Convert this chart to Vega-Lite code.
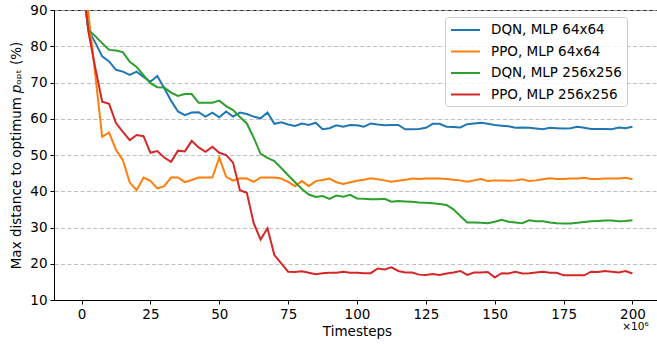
{
  "$schema": "https://vega.github.io/schema/vega-lite/v6.json",
  "autosize": {"type": "none"},
  "padding": {"left": 54, "top": 10, "right": 0, "bottom": 44},
  "width": 606,
  "height": 290,
  "background": "white",
  "config": {
    "font": "DejaVu Sans",
    "view": {"stroke": "#222222", "strokeWidth": 1},
    "axis": {
      "labelFont": "DejaVu Sans", "labelFontSize": 13.5, "labelColor": "#000000",
      "titleFont": "DejaVu Sans", "titleFontSize": 13.5, "titleFontWeight": "normal", "titleColor": "#000000",
      "domainColor": "#000000", "tickColor": "#000000", "tickSize": 4, "labelPadding": 3, "labelOverlap": false
    }
  },
  "data": {
    "values": [
      {"t": 0, "DQN, MLP 64x64": 100, "PPO, MLP 64x64": 100, "DQN, MLP 256x256": 100, "PPO, MLP 256x256": 100},
      {"t": 2.5, "DQN, MLP 64x64": 84.5, "PPO, MLP 64x64": 89, "DQN, MLP 256x256": 84.5, "PPO, MLP 256x256": 84},
      {"t": 5, "DQN, MLP 64x64": 81, "PPO, MLP 64x64": 72, "DQN, MLP 256x256": 82.8, "PPO, MLP 256x256": 74},
      {"t": 7.5, "DQN, MLP 64x64": 77.2, "PPO, MLP 64x64": 55, "DQN, MLP 256x256": 80.8, "PPO, MLP 256x256": 64.7},
      {"t": 10, "DQN, MLP 64x64": 75.8, "PPO, MLP 64x64": 56.2, "DQN, MLP 256x256": 79, "PPO, MLP 256x256": 64.1},
      {"t": 12.5, "DQN, MLP 64x64": 73.5, "PPO, MLP 64x64": 51.4, "DQN, MLP 256x256": 78.8, "PPO, MLP 256x256": 58.8},
      {"t": 15, "DQN, MLP 64x64": 73, "PPO, MLP 64x64": 48.6, "DQN, MLP 256x256": 78.4, "PPO, MLP 256x256": 56.4},
      {"t": 17.5, "DQN, MLP 64x64": 72.1, "PPO, MLP 64x64": 42.4, "DQN, MLP 256x256": 75.7, "PPO, MLP 256x256": 54.1},
      {"t": 20, "DQN, MLP 64x64": 73, "PPO, MLP 64x64": 40.3, "DQN, MLP 256x256": 74.3, "PPO, MLP 256x256": 55.5},
      {"t": 22.5, "DQN, MLP 64x64": 71.5, "PPO, MLP 64x64": 43.8, "DQN, MLP 256x256": 72, "PPO, MLP 256x256": 55.2},
      {"t": 25, "DQN, MLP 64x64": 70.2, "PPO, MLP 64x64": 42.9, "DQN, MLP 256x256": 69.8, "PPO, MLP 256x256": 50.6},
      {"t": 27.5, "DQN, MLP 64x64": 71.8, "PPO, MLP 64x64": 40.8, "DQN, MLP 256x256": 68.7, "PPO, MLP 256x256": 51.1},
      {"t": 30, "DQN, MLP 64x64": 68.5, "PPO, MLP 64x64": 41.4, "DQN, MLP 256x256": 68.6, "PPO, MLP 256x256": 49.3},
      {"t": 32.5, "DQN, MLP 64x64": 65, "PPO, MLP 64x64": 43.8, "DQN, MLP 256x256": 67.2, "PPO, MLP 256x256": 48.1},
      {"t": 35, "DQN, MLP 64x64": 62, "PPO, MLP 64x64": 43.8, "DQN, MLP 256x256": 66.3, "PPO, MLP 256x256": 51.2},
      {"t": 37.5, "DQN, MLP 64x64": 61, "PPO, MLP 64x64": 42.5, "DQN, MLP 256x256": 66.8, "PPO, MLP 256x256": 51},
      {"t": 40, "DQN, MLP 64x64": 61.7, "PPO, MLP 64x64": 43.1, "DQN, MLP 256x256": 66.8, "PPO, MLP 256x256": 53.9},
      {"t": 42.5, "DQN, MLP 64x64": 61.8, "PPO, MLP 64x64": 43.8, "DQN, MLP 256x256": 64.4, "PPO, MLP 256x256": 52.1},
      {"t": 45, "DQN, MLP 64x64": 60.6, "PPO, MLP 64x64": 43.8, "DQN, MLP 256x256": 64.4, "PPO, MLP 256x256": 50.9},
      {"t": 47.5, "DQN, MLP 64x64": 61.7, "PPO, MLP 64x64": 43.8, "DQN, MLP 256x256": 64.4, "PPO, MLP 256x256": 52.3},
      {"t": 50, "DQN, MLP 64x64": 60.4, "PPO, MLP 64x64": 49.3, "DQN, MLP 256x256": 65, "PPO, MLP 256x256": 50.6},
      {"t": 52.5, "DQN, MLP 64x64": 62, "PPO, MLP 64x64": 44, "DQN, MLP 256x256": 63.5, "PPO, MLP 256x256": 50},
      {"t": 55, "DQN, MLP 64x64": 60.6, "PPO, MLP 64x64": 42.9, "DQN, MLP 256x256": 62.4, "PPO, MLP 256x256": 47.9},
      {"t": 57.5, "DQN, MLP 64x64": 61.7, "PPO, MLP 64x64": 43.6, "DQN, MLP 256x256": 60.5, "PPO, MLP 256x256": 40.3},
      {"t": 60, "DQN, MLP 64x64": 61.3, "PPO, MLP 64x64": 43.5, "DQN, MLP 256x256": 58.7, "PPO, MLP 256x256": 39.6},
      {"t": 62.5, "DQN, MLP 64x64": 60.6, "PPO, MLP 64x64": 42.6, "DQN, MLP 256x256": 54.8, "PPO, MLP 256x256": 31.2},
      {"t": 65, "DQN, MLP 64x64": 60.1, "PPO, MLP 64x64": 43.8, "DQN, MLP 256x256": 50.3, "PPO, MLP 256x256": 26.7},
      {"t": 67.5, "DQN, MLP 64x64": 61.7, "PPO, MLP 64x64": 43.8, "DQN, MLP 256x256": 49.2, "PPO, MLP 256x256": 29.8},
      {"t": 70, "DQN, MLP 64x64": 58.6, "PPO, MLP 64x64": 43.8, "DQN, MLP 256x256": 48.3, "PPO, MLP 256x256": 22.4},
      {"t": 72.5, "DQN, MLP 64x64": 59, "PPO, MLP 64x64": 43.5, "DQN, MLP 256x256": 46.4, "PPO, MLP 256x256": 20.1},
      {"t": 75, "DQN, MLP 64x64": 58.4, "PPO, MLP 64x64": 42.6, "DQN, MLP 256x256": 44.4, "PPO, MLP 256x256": 17.8},
      {"t": 77.5, "DQN, MLP 64x64": 58, "PPO, MLP 64x64": 41.4, "DQN, MLP 256x256": 42.5, "PPO, MLP 256x256": 17.7},
      {"t": 80, "DQN, MLP 64x64": 58.7, "PPO, MLP 64x64": 42.8, "DQN, MLP 256x256": 40.6, "PPO, MLP 256x256": 17.9},
      {"t": 82.5, "DQN, MLP 64x64": 58.3, "PPO, MLP 64x64": 41.4, "DQN, MLP 256x256": 39.1, "PPO, MLP 256x256": 17.5},
      {"t": 85, "DQN, MLP 64x64": 58.9, "PPO, MLP 64x64": 42.8, "DQN, MLP 256x256": 38.4, "PPO, MLP 256x256": 17.1},
      {"t": 87.5, "DQN, MLP 64x64": 57.1, "PPO, MLP 64x64": 43.1, "DQN, MLP 256x256": 38.7, "PPO, MLP 256x256": 17.4},
      {"t": 90, "DQN, MLP 64x64": 57.4, "PPO, MLP 64x64": 43.5, "DQN, MLP 256x256": 37.9, "PPO, MLP 256x256": 17.5},
      {"t": 92.5, "DQN, MLP 64x64": 58.2, "PPO, MLP 64x64": 42.5, "DQN, MLP 256x256": 38.8, "PPO, MLP 256x256": 17.5},
      {"t": 95, "DQN, MLP 64x64": 57.8, "PPO, MLP 64x64": 42, "DQN, MLP 256x256": 38.5, "PPO, MLP 256x256": 17.8},
      {"t": 97.5, "DQN, MLP 64x64": 58.3, "PPO, MLP 64x64": 42.5, "DQN, MLP 256x256": 39, "PPO, MLP 256x256": 17.5},
      {"t": 100, "DQN, MLP 64x64": 58.2, "PPO, MLP 64x64": 42.9, "DQN, MLP 256x256": 38, "PPO, MLP 256x256": 17.5},
      {"t": 102.5, "DQN, MLP 64x64": 57.8, "PPO, MLP 64x64": 43.2, "DQN, MLP 256x256": 37.9, "PPO, MLP 256x256": 17.4},
      {"t": 105, "DQN, MLP 64x64": 58.7, "PPO, MLP 64x64": 43.6, "DQN, MLP 256x256": 37.8, "PPO, MLP 256x256": 17.4},
      {"t": 107.5, "DQN, MLP 64x64": 58.4, "PPO, MLP 64x64": 43.3, "DQN, MLP 256x256": 37.8, "PPO, MLP 256x256": 18.7},
      {"t": 110, "DQN, MLP 64x64": 58.2, "PPO, MLP 64x64": 43, "DQN, MLP 256x256": 37.9, "PPO, MLP 256x256": 18.4},
      {"t": 112.5, "DQN, MLP 64x64": 58.3, "PPO, MLP 64x64": 42.6, "DQN, MLP 256x256": 37.1, "PPO, MLP 256x256": 19},
      {"t": 115, "DQN, MLP 64x64": 58.3, "PPO, MLP 64x64": 42.9, "DQN, MLP 256x256": 37.3, "PPO, MLP 256x256": 18},
      {"t": 117.5, "DQN, MLP 64x64": 57.1, "PPO, MLP 64x64": 43.2, "DQN, MLP 256x256": 37.2, "PPO, MLP 256x256": 17.6},
      {"t": 120, "DQN, MLP 64x64": 57.1, "PPO, MLP 64x64": 43.5, "DQN, MLP 256x256": 37.1, "PPO, MLP 256x256": 17.6},
      {"t": 122.5, "DQN, MLP 64x64": 57.2, "PPO, MLP 64x64": 43.4, "DQN, MLP 256x256": 36.9, "PPO, MLP 256x256": 17},
      {"t": 125, "DQN, MLP 64x64": 57.5, "PPO, MLP 64x64": 43.5, "DQN, MLP 256x256": 36.8, "PPO, MLP 256x256": 16.9},
      {"t": 127.5, "DQN, MLP 64x64": 58.6, "PPO, MLP 64x64": 43.5, "DQN, MLP 256x256": 36.7, "PPO, MLP 256x256": 17.2},
      {"t": 130, "DQN, MLP 64x64": 58.6, "PPO, MLP 64x64": 43.5, "DQN, MLP 256x256": 36.5, "PPO, MLP 256x256": 16.9},
      {"t": 132.5, "DQN, MLP 64x64": 57.8, "PPO, MLP 64x64": 43.4, "DQN, MLP 256x256": 36.2, "PPO, MLP 256x256": 17.3},
      {"t": 135, "DQN, MLP 64x64": 57.7, "PPO, MLP 64x64": 43.2, "DQN, MLP 256x256": 35, "PPO, MLP 256x256": 17.6},
      {"t": 137.5, "DQN, MLP 64x64": 57.6, "PPO, MLP 64x64": 43, "DQN, MLP 256x256": 33.2, "PPO, MLP 256x256": 18},
      {"t": 140, "DQN, MLP 64x64": 58.5, "PPO, MLP 64x64": 42.6, "DQN, MLP 256x256": 31.4, "PPO, MLP 256x256": 16.9},
      {"t": 142.5, "DQN, MLP 64x64": 58.7, "PPO, MLP 64x64": 43, "DQN, MLP 256x256": 31.4, "PPO, MLP 256x256": 17.6},
      {"t": 145, "DQN, MLP 64x64": 58.9, "PPO, MLP 64x64": 43.4, "DQN, MLP 256x256": 31.3, "PPO, MLP 256x256": 17.6},
      {"t": 147.5, "DQN, MLP 64x64": 58.6, "PPO, MLP 64x64": 42.8, "DQN, MLP 256x256": 31.2, "PPO, MLP 256x256": 17.7},
      {"t": 150, "DQN, MLP 64x64": 58.3, "PPO, MLP 64x64": 43, "DQN, MLP 256x256": 31.6, "PPO, MLP 256x256": 16.2},
      {"t": 152.5, "DQN, MLP 64x64": 58.1, "PPO, MLP 64x64": 43, "DQN, MLP 256x256": 32.1, "PPO, MLP 256x256": 17.4},
      {"t": 155, "DQN, MLP 64x64": 57.9, "PPO, MLP 64x64": 42.9, "DQN, MLP 256x256": 31.6, "PPO, MLP 256x256": 17.3},
      {"t": 157.5, "DQN, MLP 64x64": 57.5, "PPO, MLP 64x64": 43, "DQN, MLP 256x256": 31.4, "PPO, MLP 256x256": 17.8},
      {"t": 160, "DQN, MLP 64x64": 57.6, "PPO, MLP 64x64": 43.3, "DQN, MLP 256x256": 31.2, "PPO, MLP 256x256": 17.3},
      {"t": 162.5, "DQN, MLP 64x64": 57.5, "PPO, MLP 64x64": 42.8, "DQN, MLP 256x256": 32, "PPO, MLP 256x256": 17.4},
      {"t": 165, "DQN, MLP 64x64": 57.3, "PPO, MLP 64x64": 43, "DQN, MLP 256x256": 31.7, "PPO, MLP 256x256": 17.6},
      {"t": 167.5, "DQN, MLP 64x64": 57.1, "PPO, MLP 64x64": 43.3, "DQN, MLP 256x256": 31.7, "PPO, MLP 256x256": 17.8},
      {"t": 170, "DQN, MLP 64x64": 57.5, "PPO, MLP 64x64": 43.6, "DQN, MLP 256x256": 31.4, "PPO, MLP 256x256": 17.5},
      {"t": 172.5, "DQN, MLP 64x64": 57.4, "PPO, MLP 64x64": 43.4, "DQN, MLP 256x256": 31.2, "PPO, MLP 256x256": 17.5},
      {"t": 175, "DQN, MLP 64x64": 57.3, "PPO, MLP 64x64": 43.4, "DQN, MLP 256x256": 31.1, "PPO, MLP 256x256": 16.8},
      {"t": 177.5, "DQN, MLP 64x64": 57.4, "PPO, MLP 64x64": 43.5, "DQN, MLP 256x256": 31.1, "PPO, MLP 256x256": 16.8},
      {"t": 180, "DQN, MLP 64x64": 57.8, "PPO, MLP 64x64": 43.5, "DQN, MLP 256x256": 31.3, "PPO, MLP 256x256": 16.8},
      {"t": 182.5, "DQN, MLP 64x64": 57.5, "PPO, MLP 64x64": 43.7, "DQN, MLP 256x256": 31.5, "PPO, MLP 256x256": 16.8},
      {"t": 185, "DQN, MLP 64x64": 57.2, "PPO, MLP 64x64": 43.4, "DQN, MLP 256x256": 31.7, "PPO, MLP 256x256": 17.8},
      {"t": 187.5, "DQN, MLP 64x64": 57.2, "PPO, MLP 64x64": 43.4, "DQN, MLP 256x256": 31.8, "PPO, MLP 256x256": 17.7},
      {"t": 190, "DQN, MLP 64x64": 57.2, "PPO, MLP 64x64": 43.5, "DQN, MLP 256x256": 31.9, "PPO, MLP 256x256": 18},
      {"t": 192.5, "DQN, MLP 64x64": 57.1, "PPO, MLP 64x64": 43.5, "DQN, MLP 256x256": 31.9, "PPO, MLP 256x256": 17.8},
      {"t": 195, "DQN, MLP 64x64": 57.6, "PPO, MLP 64x64": 43.5, "DQN, MLP 256x256": 31.7, "PPO, MLP 256x256": 17.6},
      {"t": 197.5, "DQN, MLP 64x64": 57.4, "PPO, MLP 64x64": 43.7, "DQN, MLP 256x256": 31.8, "PPO, MLP 256x256": 18},
      {"t": 200, "DQN, MLP 64x64": 57.8, "PPO, MLP 64x64": 43.3, "DQN, MLP 256x256": 32, "PPO, MLP 256x256": 17.3}
    ]
  },
  "layer": [
    {
      "transform": [
        {"fold": ["DQN, MLP 64x64", "PPO, MLP 64x64", "DQN, MLP 256x256", "PPO, MLP 256x256"], "as": ["series", "value"]}
      ],
      "mark": {"type": "line", "clip": true, "strokeWidth": 2},
      "encoding": {
        "x": {
          "field": "t", "type": "quantitative",
          "scale": {"domain": [-10, 210], "nice": false, "zero": false},
          "axis": {"values": [0, 25, 50, 75, 100, 125, 150, 175, 200], "tickCount": 20, "grid": false, "title": "Timesteps", "titlePadding": 4}
        },
        "y": {
          "field": "value", "type": "quantitative",
          "scale": {"domain": [10, 90], "nice": false, "zero": false},
          "axis": {
            "values": [10, 20, 30, 40, 50, 60, 70, 80, 90], "tickCount": 20,
            "grid": true, "gridColor": "#b0b0b0", "gridDash": [4, 2.5], "gridWidth": 0.8,
            "title": "Max distance to optimum 𝑝ₒₚₜ (%)", "titlePadding": 6
          }
        },
        "color": {
          "field": "series", "type": "nominal",
          "scale": {
            "domain": ["DQN, MLP 64x64", "PPO, MLP 64x64", "DQN, MLP 256x256", "PPO, MLP 256x256"],
            "range": ["#1f77b4", "#ff7f0e", "#2ca02c", "#d62728"]
          },
          "legend": {
            "title": null, "orient": "none", "legendX": 391, "legendY": 7,
            "symbolType": "M-1,0H3.14", "symbolSize": 196, "symbolStrokeWidth": 2,
            "labelFont": "DejaVu Sans", "labelFontSize": 13.5, "labelColor": "#000000", "labelOffset": 25,
            "rowPadding": 6.5, "padding": 5,
            "fillColor": "rgba(255,255,255,0.8)", "strokeColor": "#cccccc", "cornerRadius": 3
          }
        }
      }
    },
    {
      "data": {"values": [{"label": "×10⁶"}]},
      "mark": {"type": "text", "fontSize": 10.5, "font": "DejaVu Sans", "align": "center", "baseline": "top", "dy": 22, "dx": 3, "color": "#000000"},
      "encoding": {
        "x": {"datum": 200, "type": "quantitative"},
        "y": {"datum": 10, "type": "quantitative"},
        "text": {"field": "label"}
      }
    }
  ]
}
